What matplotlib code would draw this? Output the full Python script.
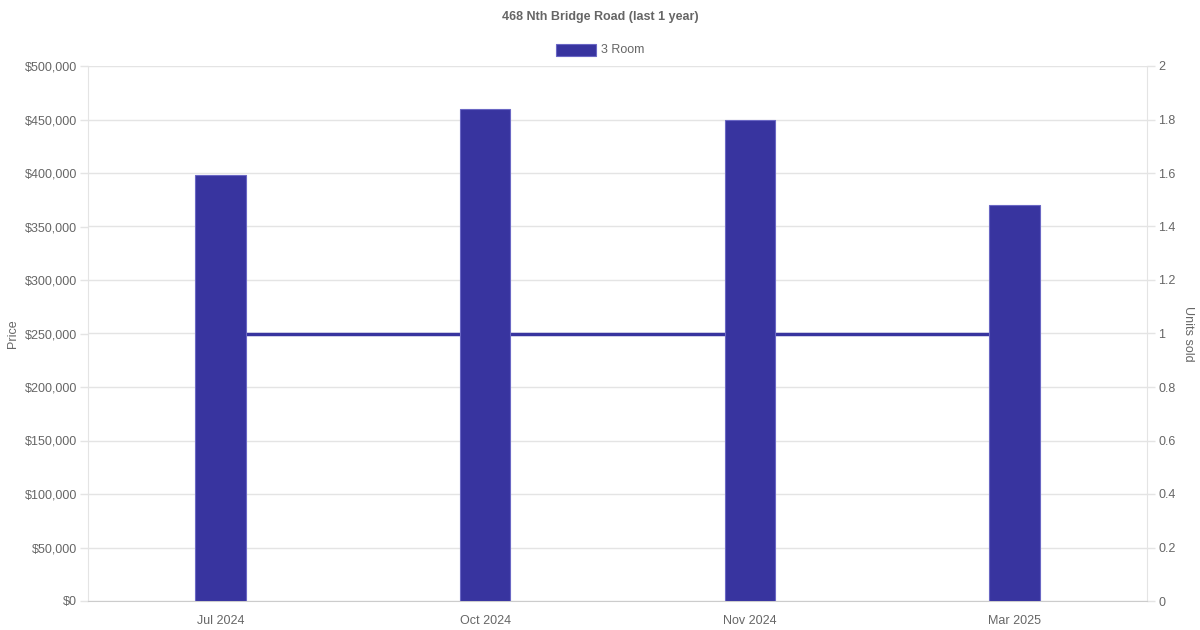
import numpy as np
import matplotlib.pyplot as plt
from matplotlib.ticker import FuncFormatter, MultipleLocator

plt.rcParams['font.family'] = ['Liberation Sans', 'DejaVu Sans']

months = ["Jul 2024", "Oct 2024", "Nov 2024", "Mar 2025"]
prices = [398000, 460000, 450000, 370000]
units_sold = [1, 1, 1, 1]
series_name = "3 Room"

bar_color = "#38349f"
text_color = "#666666"
grid_color = "#e4e4e4"
fs = 9

fig = plt.figure(figsize=(12, 6.3), dpi=100)
ax = fig.add_axes([88 / 1200, 1 - 601 / 630, (1147 - 88) / 1200, (601 - 66) / 630])
ax2 = ax.twinx()

x = np.arange(len(months)) + 0.5

# units sold line on the right axis, drawn under the bars; grid lives here too
ax2.plot(x, units_sold, color=bar_color, linewidth=2.5, solid_capstyle="butt", zorder=2)
ax2.set_ylim(0, 2)
ax2.yaxis.set_major_locator(MultipleLocator(0.2))
ax2.yaxis.set_major_formatter(FuncFormatter(lambda v, p: f"{v:g}"))
ax2.set_ylabel("Units sold", color=text_color, fontsize=fs, rotation=270, labelpad=13)
ax2.grid(axis="y", color=grid_color, linewidth=1, zorder=0)
ax2.set_axisbelow(True)

ax.bar(x, prices, width=0.19, color=bar_color, edgecolor="#6a67c4", linewidth=0.8, zorder=3)
ax.set_zorder(ax2.get_zorder() + 1)
ax.patch.set_visible(False)

ax.set_xlim(0, len(months))
ax.set_ylim(0, 500000)
ax.yaxis.set_major_locator(MultipleLocator(50000))
ax.yaxis.set_major_formatter(FuncFormatter(lambda v, p: f"${v:,.0f}"))
ax.set_xticks(x)
ax.set_xticklabels(months)
ax.set_ylabel("Price", color=text_color, fontsize=fs, labelpad=4)

for a in (ax, ax2):
    for s in a.spines.values():
        s.set_visible(False)
    a.tick_params(colors=grid_color, labelcolor=text_color, labelsize=fs, length=6, width=1, pad=2)
ax.tick_params(axis="x", length=0, pad=10)
ax.spines["left"].set_visible(True)
ax.spines["left"].set_color(grid_color)
ax.spines["bottom"].set_visible(True)
ax.spines["bottom"].set_color("#cccccc")
ax2.spines["right"].set_visible(True)
ax2.spines["right"].set_color(grid_color)

fig.text(0.5, 1 - 17 / 630, "468 Nth Bridge Road (last 1 year)", ha="center", va="center",
         fontsize=fs, fontweight="bold", color=text_color)

# legend
fig.patches.append(plt.Rectangle((556 / 1200, 1 - 56 / 630), 40 / 1200, 12 / 630,
                                 transform=fig.transFigure, facecolor=bar_color,
                                 edgecolor="#6a67c4", linewidth=0.8))
fig.text(601 / 1200, 1 - 50 / 630, series_name, ha="left", va="center", fontsize=fs, color=text_color)

fig.savefig("out.png", dpi=100)
